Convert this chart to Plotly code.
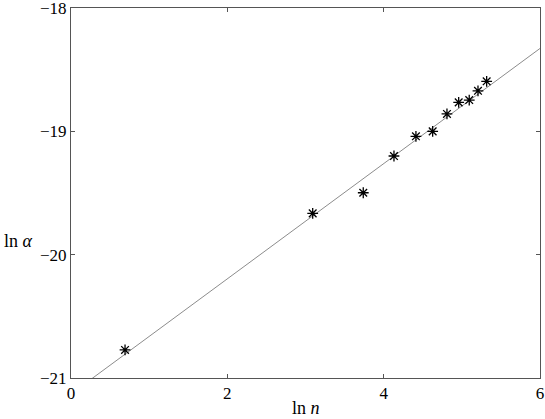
import plotly.graph_objects as go

# data
ln_n = [0.691, 3.092, 3.739, 4.132, 4.413, 4.627, 4.810, 4.960, 5.095, 5.207, 5.318]
ln_alpha = [-20.773, -19.665, -19.498, -19.200, -19.040, -19.000, -18.859, -18.765, -18.746, -18.671, -18.594]

# fitted line
fit_x = [0.0, 6.0]
fit_slope = 0.467
fit_intercept = -21.130
fit_y = [fit_slope * x + fit_intercept for x in fit_x]

x_ticks = [0, 2, 4, 6]
y_ticks = [-21, -20, -19, -18]
x_tick_labels = ["0", "2", "4", "6"]
y_tick_labels = ["\u221221", "\u221220", "\u221219", "\u221218"]

font_family = "Liberation Serif, DejaVu Serif, serif"

fig = go.Figure()
fig.add_trace(go.Scatter(
    x=fit_x, y=fit_y, mode="lines",
    line=dict(color="#8c8c8c", width=1),
    hoverinfo="skip", showlegend=False,
))
fig.add_trace(go.Scatter(
    x=ln_n, y=ln_alpha, mode="markers",
    marker=dict(symbol="asterisk-open", size=9, color="black",
                line=dict(color="black", width=1.3)),
    showlegend=False,
))

axis_common = dict(
    showgrid=False, zeroline=False, automargin=False,
    showline=True, linecolor="#555555", linewidth=1, mirror="ticks",
    ticks="inside", ticklen=4, tickcolor="#555555", tickwidth=1,
    ticklabeloverflow="allow",
    tickfont=dict(family=font_family, size=17, color="black"),
)

fig.update_layout(
    width=545, height=419,
    margin=dict(l=71, r=5, t=8, b=41, autoexpand=False),
    paper_bgcolor="white", plot_bgcolor="white",
    xaxis=dict(range=[-0.0005, 6.0005], tickvals=x_ticks, ticktext=x_tick_labels,
               **axis_common),
    yaxis=dict(range=[-21.0003, -17.9997], tickvals=y_ticks, ticktext=y_tick_labels,
               **axis_common),
    annotations=[
        dict(text="ln <i>\u03b1</i>", xref="paper", yref="paper",
             x=-0.148, y=0.37, xanchor="left", yanchor="middle", showarrow=False,
             font=dict(family=font_family, size=18, color="black")),
        dict(text="ln <i>n</i>", xref="paper", yref="paper",
             x=0.5, y=-0.08, xanchor="center", yanchor="middle", showarrow=False,
             font=dict(family=font_family, size=18, color="black")),
    ],
)

fig.write_html(
    "out.html",
    config={"displayModeBar": False},
    post_script="document.body.style.margin='0';document.body.style.overflow='hidden';",
)
